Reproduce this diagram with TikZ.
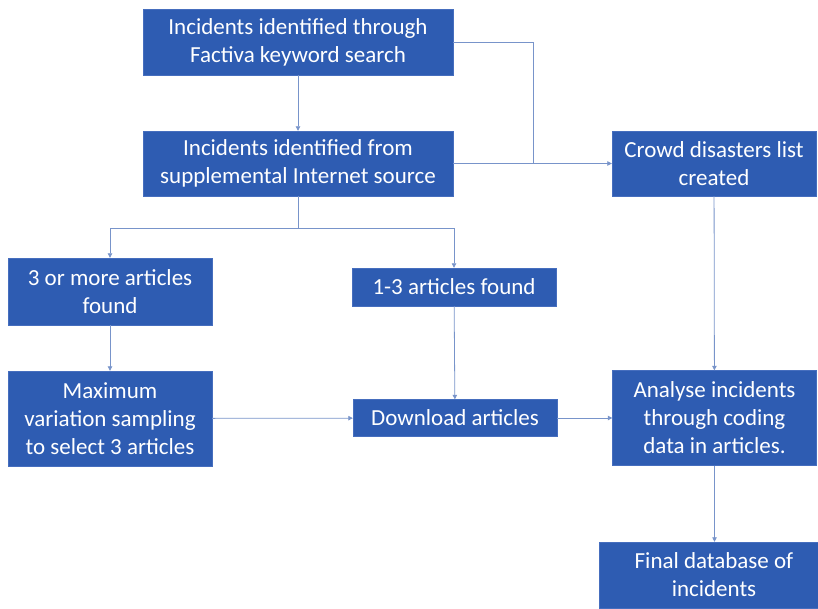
\documentclass[tikz,border=0pt]{standalone}
\usepackage{fontspec}
\setmainfont{Carlito}
\usepackage{xcolor}
\usetikzlibrary{arrows.meta, positioning}
\definecolor{boxblue}{RGB}{46,92,178}
\definecolor{boxedge}{RGB}{70,110,190}
\definecolor{linkblue}{RGB}{120,148,202}
\tikzset{
  stage/.style={rectangle, draw=boxedge, fill=boxblue, text=white,
    align=center, minimum width=204pt, inner sep=0pt,
    font=\fontsize{23}{28}\selectfont},
  wide/.style={stage, minimum width=310pt},
  link/.style={-{Triangle[length=4.5pt,width=4.5pt]}, line width=0.8pt, linkblue},
  plain/.style={line width=0.8pt, linkblue}
}

\begin{document}
\begin{tikzpicture}[x=1pt, y=-1pt]
  \clip (0,0) rectangle (818,609);
  \node[wide, minimum height=66pt] (factiva) at (298,42) {Incidents identified through\\Factiva keyword search};
  \node[wide, minimum height=65pt] (inet) at (298,163.5) {Incidents identified from\\supplemental Internet source};
  \node[stage, minimum height=65pt] (crowd) at (714,163.5) {Crowd disasters list\\created};
  \node[stage, minimum height=67pt] (many) at (110,291.5) {3 or more articles\\found};
  \node[stage, minimum height=38pt] (few) at (454,287) {1-3 articles found};
  \node[stage, minimum height=95pt] (sampling) at (110,418.5) {Maximum\\variation sampling\\to select 3 articles};
  \node[stage, minimum height=37pt] (download) at (455,418) {Download articles};
  \node[stage, minimum height=95pt] (analyse) at (714.5,418) {Analyse incidents\\through coding\\data in articles.};
  \node[stage, minimum width=230pt, minimum height=66pt] (final) at (714,575) {Final database of\\incidents};

  \coordinate (merge) at (533,163.5);
  \coordinate (split) at (298,228);

  \draw[link] (factiva) -- (inet);
  \draw[plain] (factiva.east) -| (merge);
  \draw[link] (inet) -- (crowd);
  \draw[plain] (inet.south) -- (split);
  \draw[link] (split) -| (many.north);
  \draw[link] (split) -| (few.north);
  \draw[link] (many) -- (sampling);
  \draw[link] (few) -- (download);
  \draw[link] (sampling) -- (download);
  \draw[link] (download) -- (download -| analyse.west);
  \draw[link] (crowd) -- (analyse);
  \draw[link] (analyse) -- (analyse |- final.north);
\end{tikzpicture}
\end{document}
